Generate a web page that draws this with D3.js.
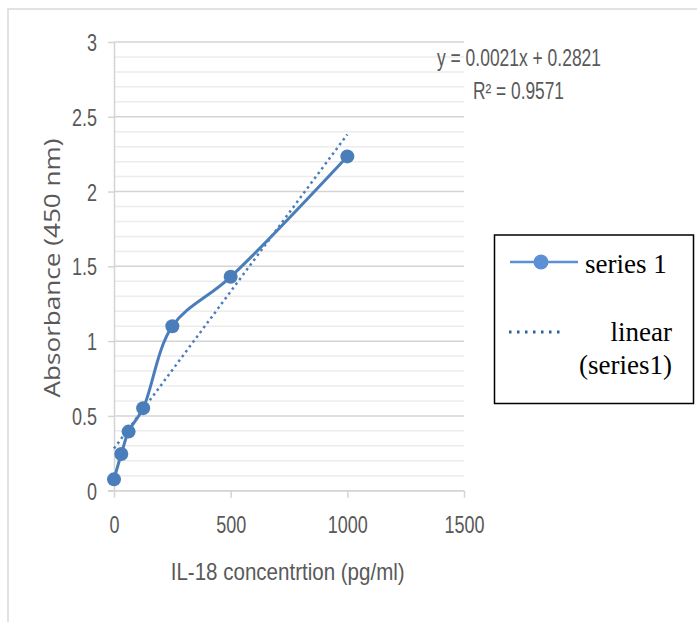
<!DOCTYPE html>
<html lang="en">
<head>
<meta charset="UTF-8">
<title>IL-18 standard curve</title>
<script src="https://d3js.org/d3.v7.min.js"></script>
<style>
  body { margin: 0; background: #fff; }
</style>
</head>
<body>
<script>
    // standard curve points
    const concentration = [0, 31.25, 62.5, 125, 250, 500, 1000];
    const absorbance = [0.076, 0.245, 0.395, 0.552, 1.10, 1.43, 2.235];
    const trendSlope = 0.0021, trendIntercept = 0.2821;
    const trendRange = [0, 1000];
    const xTicks = [0, 500, 1000, 1500];
    const yTicks = [0, 0.5, 1, 1.5, 2, 2.5, 3];
    const yMinor = d3.range(0, 3.01, 0.1);
    const eqLabel = "y = 0.0021x + 0.2821";
    const r2Label = "R\u00B2 = 0.9571";
    const legendLabels = ["series 1", "linear", "(series1)"];

    const WIDTH = 697, HEIGHT = 622;
    const BLUE = "#4a7ebb", TXT = "#595959";
    const narrow = "'Liberation Sans Narrow', 'Liberation Sans', Arial, sans-serif";

    const x = d3.scaleLinear().domain([0, 1500]).range([114, 464]);
    const y = d3.scaleLinear().domain([0, 3]).range([490.7, 42]);

    const svg = d3.select("body").append("svg").attr("width", WIDTH).attr("height", HEIGHT);

    // squeeze text sideways, the source picture was shrunk horizontally
    function squeeze(sel, k) {
        sel.each(function () {
            const w = this.getComputedTextLength();
            d3.select(this).attr("textLength", w * k).attr("lengthAdjust", "spacingAndGlyphs");
        });
    }

    // chart frame (only top/left edges visible in the picture)
    svg.append("path").attr("d", "M8,640 V9 H720").attr("fill", "none")
        .attr("stroke", "#d9d9d9").attr("stroke-width", 1.5);

    // gridlines
    svg.append("g").selectAll("line").data(yMinor).join("line")
        .attr("x1", x(0)).attr("x2", x(1500))
        .attr("y1", d => y(d)).attr("y2", d => y(d))
        .attr("stroke", d => Math.abs(d * 2 - Math.round(d * 2)) < 1e-6 ? "#d4d4d4" : "#ececec")
        .attr("stroke-width", 1.5);

    // y axis
    const yAxis = svg.append("g").attr("transform", `translate(${x(0)},0)`)
        .call(d3.axisLeft(y).tickValues(yTicks).tickSize(6).tickPadding(11).tickSizeOuter(0)
            .tickFormat(d3.format("")));
    yAxis.select(".domain").attr("stroke", "#d4d4d4").attr("stroke-width", 1.5);
    yAxis.selectAll(".tick line").attr("stroke", "#d4d4d4").attr("stroke-width", 1.5);
    yAxis.selectAll("text").attr("fill", TXT).style("font-family", narrow).style("font-size", "24px")
        .attr("dy", "0.36em").call(squeeze, 0.75);

    // x axis
    const xAxis = svg.append("g").attr("transform", `translate(0,${y(0)})`)
        .call(d3.axisBottom(x).tickValues(xTicks).tickSize(7).tickPadding(18).tickSizeOuter(0)
            .tickFormat(d3.format("d")));
    xAxis.select(".domain").attr("stroke", "#d4d4d4").attr("stroke-width", 1.5)
        .attr("d", `M${x(0) - 6},0H${x(1500)}`);
    xAxis.selectAll(".tick line").attr("stroke", "#d4d4d4").attr("stroke-width", 1.5);
    xAxis.selectAll("text").attr("fill", TXT).style("font-family", narrow).style("font-size", "24px")
        .call(squeeze, 0.75);

    // axis titles
    svg.append("text").text("IL-18 concentrtion  (pg/ml)")
        .attr("x", 170.7).attr("y", 580).attr("textLength", 234).attr("lengthAdjust", "spacingAndGlyphs")
        .attr("fill", TXT).style("font-family", narrow).style("font-size", "24px");
    svg.append("text").text("Absorbance (450 nm)")
        .attr("transform", "translate(60,268) rotate(-90)").attr("text-anchor", "middle")
        .attr("textLength", 259).attr("lengthAdjust", "spacingAndGlyphs")
        .attr("fill", TXT).style("font-family", "'Open Sans', sans-serif").style("font-size", "21px");

    // trendline
    svg.append("line")
        .attr("x1", x(trendRange[0])).attr("y1", y(trendSlope * trendRange[0] + trendIntercept))
        .attr("x2", x(trendRange[1])).attr("y2", y(trendSlope * trendRange[1] + trendIntercept))
        .attr("stroke", BLUE).attr("stroke-width", 2.5).attr("stroke-dasharray", "2.5,3.5");

    // series line + markers
    const pts = concentration.map((c, i) => [c, absorbance[i]]);
    svg.append("path").datum(pts)
        .attr("d", d3.line().x(d => x(d[0])).y(d => y(d[1])).curve(d3.curveCatmullRom.alpha(0.5)))
        .attr("fill", "none").attr("stroke", BLUE).attr("stroke-width", 3);
    svg.append("g").selectAll("circle").data(pts).join("circle")
        .attr("cx", d => x(d[0])).attr("cy", d => y(d[1])).attr("r", 7).attr("fill", BLUE);

    // trendline equation
    svg.append("text").text(eqLabel).attr("x", 437).attr("y", 66)
        .attr("textLength", 164).attr("lengthAdjust", "spacingAndGlyphs")
        .attr("fill", TXT).style("font-family", narrow).style("font-size", "23px");
    svg.append("text").text(r2Label).attr("x", 473).attr("y", 99)
        .attr("textLength", 91).attr("lengthAdjust", "spacingAndGlyphs")
        .attr("fill", TXT).style("font-family", narrow).style("font-size", "23px");

    // legend
    const lg = svg.append("g");
    lg.append("rect").attr("x", 494.5).attr("y", 235).attr("width", 199).attr("height", 168.5)
        .attr("fill", "#fff").attr("stroke", "#000").attr("stroke-width", 1.5);
    lg.append("line").attr("x1", 510).attr("x2", 578).attr("y1", 262).attr("y2", 262)
        .attr("stroke", "#5b8fd6").attr("stroke-width", 2.5);
    lg.append("circle").attr("cx", 541).attr("cy", 262).attr("r", 7.5).attr("fill", "#5b8fd6");
    lg.append("line").attr("x1", 509).attr("x2", 564).attr("y1", 332).attr("y2", 332)
        .attr("stroke", "#2f5f9a").attr("stroke-width", 3).attr("stroke-dasharray", "2.5,5.5");
    const serif = "'Liberation Serif', 'Times New Roman', serif";
    lg.append("text").text(legendLabels[0]).attr("x", 585).attr("y", 273)
        .attr("fill", "#000").style("font-family", serif).style("font-size", "27px");
    lg.append("text").text(legendLabels[1]).attr("x", 672).attr("y", 341).attr("text-anchor", "end")
        .attr("fill", "#000").style("font-family", serif).style("font-size", "27px");
    lg.append("text").text(legendLabels[2]).attr("x", 672).attr("y", 374).attr("text-anchor", "end")
        .attr("fill", "#000").style("font-family", serif).style("font-size", "27px");
</script>
</body>
</html>
